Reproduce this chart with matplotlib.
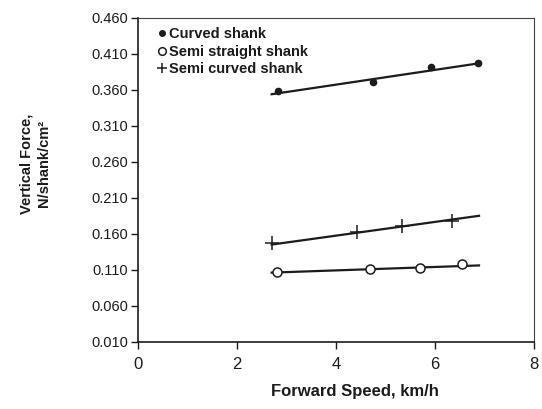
import matplotlib
matplotlib.use("Agg")
import matplotlib.pyplot as plt
from matplotlib.lines import Line2D

# Forward speed (km/h) and vertical force (N/shank/cm^2)
curved_x = [2.83, 4.75, 5.91, 6.86]
curved_y = [0.359, 0.371, 0.392, 0.398]
straight_x = [2.81, 4.69, 5.70, 6.55]
straight_y = [0.1065, 0.111, 0.112, 0.118]
semi_x = [2.70, 4.43, 5.34, 6.35]
semi_y = [0.147, 0.163, 0.171, 0.178]

# trend line end points
trend_x = [2.70, 6.89]
curved_trend = [0.354, 0.397]
straight_trend = [0.106, 0.116]
semi_trend = [0.145, 0.185]

labels = ["Curved shank", "Semi straight shank", "Semi curved shank"]
yticks = [0.010, 0.060, 0.110, 0.160, 0.210, 0.260, 0.310, 0.360, 0.410, 0.460]
xticks = [0, 2, 4, 6, 8]

plt.rcParams["font.family"] = ["Liberation Sans", "DejaVu Sans"]
ink = "#1c1c1c"

fig = plt.figure(figsize=(5.42, 4.09), dpi=100)
ax = fig.add_axes([0.2546, 0.1646, 0.7306, 0.7914])

ax.plot(trend_x, curved_trend, color=ink, lw=1.6)
ax.plot(trend_x, straight_trend, color=ink, lw=1.6)
ax.plot(trend_x, semi_trend, color=ink, lw=1.6)

ax.plot(curved_x, curved_y, "o", color=ink, ms=4.5, ls="none")
ax.plot(straight_x, straight_y, "o", mfc="white", mec=ink, mew=1.1, ms=6.5, ls="none")
ax.plot(semi_x, semi_y, "+", color=ink, mew=1.1, ms=10, ls="none")

ax.set_xlim(0, 8)
ax.set_ylim(0.010, 0.460)
ax.set_xticks(xticks)
ax.set_xticklabels([str(v) for v in xticks])
ax.set_yticks(yticks)
ax.set_yticklabels([f"{v:.3f}" for v in yticks])
ax.tick_params(axis="x", direction="out", length=5, width=1, pad=6,
               labelsize=12, colors=ink)
ax.tick_params(axis="y", direction="out", length=5, width=1, pad=2,
               labelsize=10.5, colors=ink)

for side in ["left", "bottom"]:
    ax.spines[side].set_linewidth(1.2)
    ax.spines[side].set_color(ink)
for side in ["top", "right"]:
    ax.spines[side].set_linewidth(0.8)
    ax.spines[side].set_color("#444444")

ax.set_xlabel("Forward Speed, km/h", fontsize=12, fontweight="bold", color=ink)
ax.xaxis.set_label_coords(0.548, -0.13)

fig.text(0.065, 0.60, "Vertical Force,\nN/shank/cm\u00b2", rotation=90,
         ha="center", va="center", ma="center", fontsize=10.5, fontweight="bold",
         color=ink, linespacing=1.35)

handles = [
    Line2D([], [], marker="o", color=ink, ms=4, ls="none"),
    Line2D([], [], marker="o", mfc="white", mec=ink, mew=1.1, ms=5.5, ls="none"),
    Line2D([], [], marker="+", color=ink, mew=1.1, ms=7, ls="none"),
]
leg = ax.legend(handles, labels, loc="upper left", bbox_to_anchor=(0.025, 1.0),
                frameon=False, handlelength=0.6, handletextpad=0.2,
                labelspacing=0.22, borderaxespad=0.25,
                prop={"size": 10.5, "weight": "bold"})
for t in leg.get_texts():
    t.set_color(ink)

fig.savefig("out.png", dpi=100, facecolor="white")
